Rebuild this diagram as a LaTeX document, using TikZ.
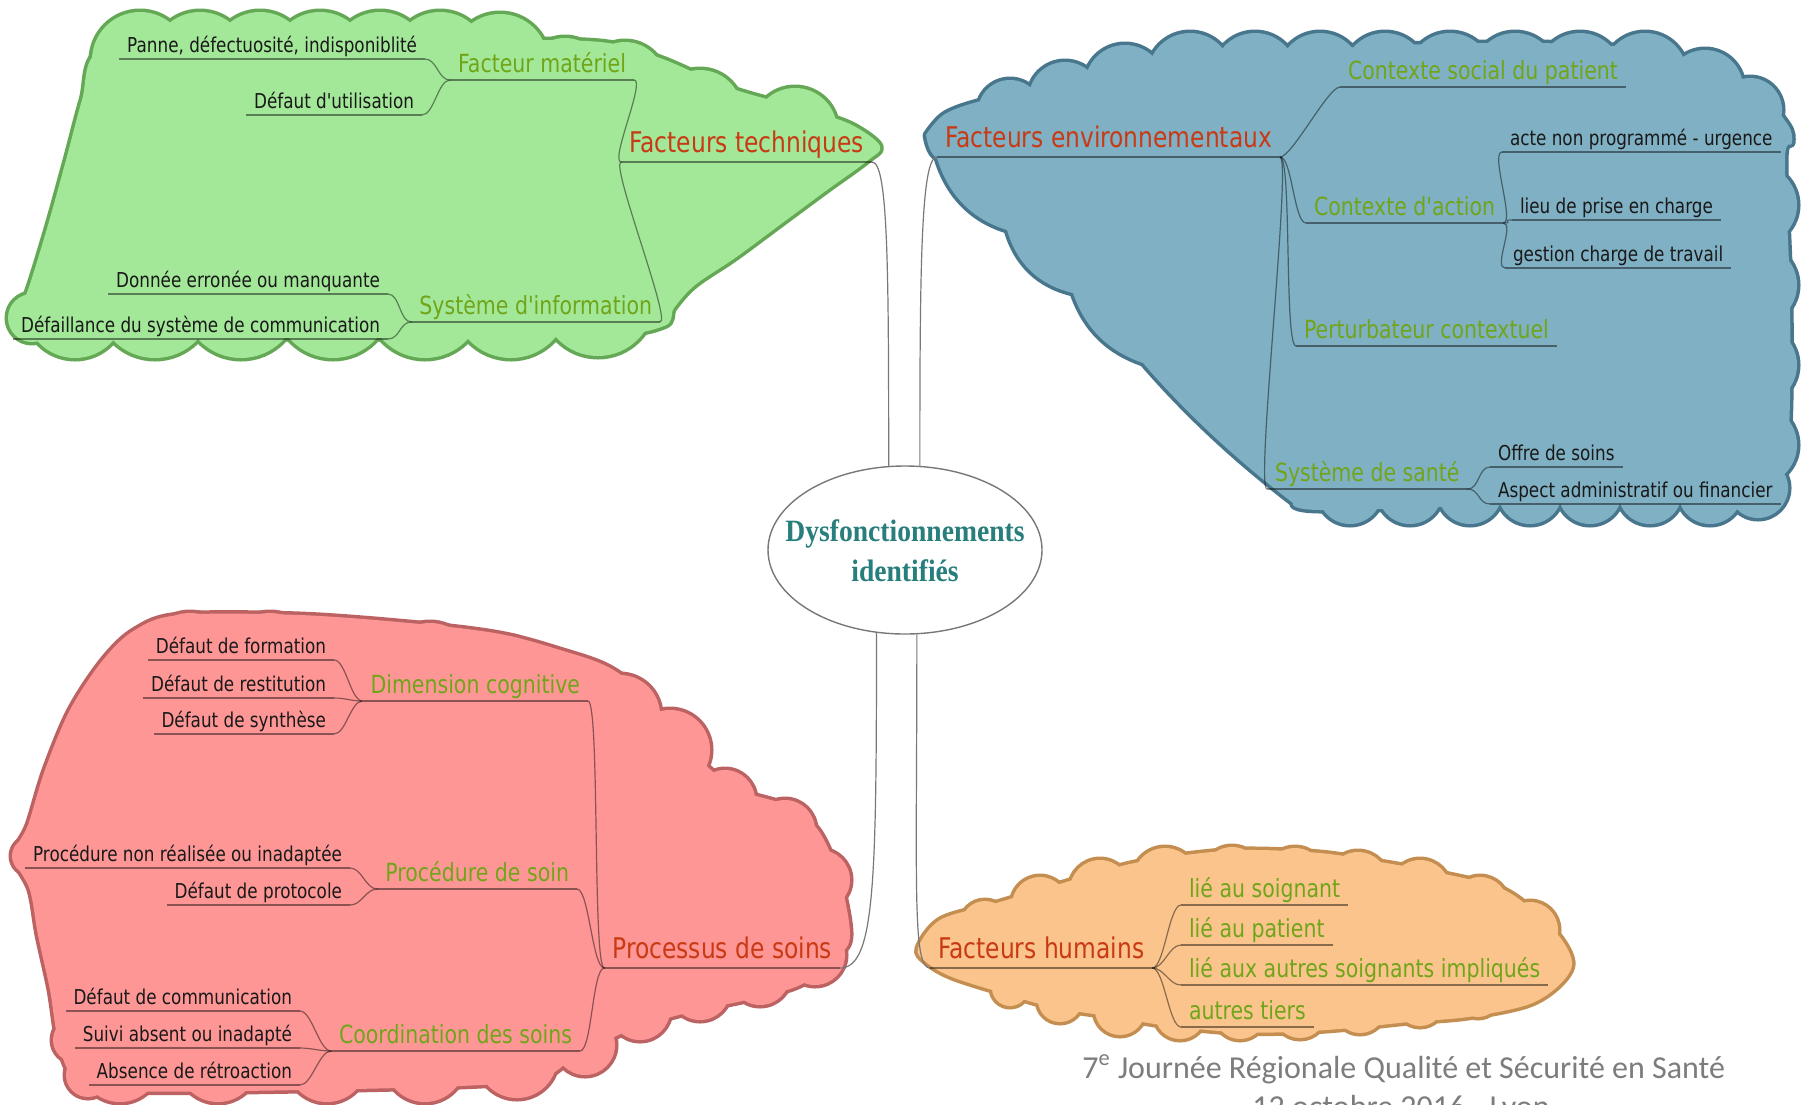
\documentclass[tikz,border=0pt]{standalone}
\usepackage{fontspec}
\usetikzlibrary{shapes.geometric}
\newfontfamily\mapfont[FakeStretch=0.82]{DejaVu Sans}
\newfontfamily\ctrfont[FakeStretch=0.89]{Liberation Serif}
\newfontfamily\footfont{Carlito}
\definecolor{gFill}{RGB}{162,232,152}
\definecolor{gEdge}{RGB}{100,168,85}
\definecolor{bFill}{RGB}{128,176,196}
\definecolor{bEdge}{RGB}{72,118,140}
\definecolor{rFill}{RGB}{255,150,150}
\definecolor{rEdge}{RGB}{188,98,98}
\definecolor{oFill}{RGB}{250,196,140}
\definecolor{oEdge}{RGB}{196,142,80}
\definecolor{cLone}{RGB}{200,58,20}
\definecolor{cLtwo}{RGB}{112,165,25}
\definecolor{cLeaf}{RGB}{25,25,25}
\definecolor{cCtr}{RGB}{40,125,125}
\definecolor{cFoot}{RGB}{125,125,125}
\definecolor{cLink}{RGB}{120,120,120}
\tikzset{
  cloudedge/.style={line width=3.5pt, line join=round},
  leaftext/.style={font=\mapfont\fontsize{10.25}{12}\selectfont, text=cLeaf, text depth=0pt, inner xsep=4pt, inner ysep=3.5pt, outer sep=0pt},
  twotext/.style={font=\mapfont\fontsize{12.5}{14}\selectfont, text=cLtwo, text depth=0pt, inner xsep=4pt, inner ysep=4pt, outer sep=0pt},
  onetext/.style={font=\mapfont\fontsize{14.25}{16}\selectfont, text=cLone, text depth=0pt, inner xsep=4pt, inner ysep=5pt, outer sep=0pt},
  lft/.style={anchor=base east},
  rgt/.style={anchor=base west},
  uline/.style={draw=black, draw opacity=0.45, line width=0.7pt},
  sublink/.style={draw=black, draw opacity=0.45, line width=0.6pt},
  mainlink/.style={draw=cLink, line width=0.6pt},
}
% cloud geometry (pixel units)
\def\greenbody{plot[smooth cycle, tension=0.55] coordinates {(98,52) (180,42) (330,40) (480,40) (600,42) (660,58) (730,88) (800,108) (850,124) (880,146) (867,161) (827,190) (781,224) (735,258) (695,285) (674,308) (664,326) (600,336) (400,338) (200,338) (60,336) (14,324) (28,290) (48,225) (66,160) (82,100)}}
\def\greenbumps{(140,60) circle (48) (200,60) circle (48) (260,60) circle (48) (320,60) circle (48) (380,60) circle (48) (440,60) circle (48) (500,62) circle (48) (565,78) circle (40) (625,82) circle (40) (700,112) circle (42) (795,130) circle (42) (75,308) circle (50) (155,300) circle (58) (241,300) circle (58) (333,300) circle (58) (425,300) circle (58) (511,300) circle (58) (598,300) circle (56) (32,318) circle (24)}
\def\bluebody{(926,135) .. controls (928,148) and (932,155) .. (937,158)
  .. controls (948,194) and (971,219) .. (1007,230)
  .. controls (1017,264) and (1039,285) .. (1073,293)
  .. controls (1085,328) and (1108,351) .. (1143,363)
  .. controls (1188,415) and (1238,461) .. (1293,503)
  -- plot[smooth, tension=0.55] coordinates {(1293,503) (1320,510) (1500,505) (1700,500) (1770,492) (1788,440) (1790,300) (1785,160) (1792,143) (1788,125) (1760,95) (1700,65) (1600,45) (1400,45) (1200,60) (1060,85) (985,100) (945,114) (926,135)} -- cycle}
\def\bluebumps{(1010,112) circle (32) (1065,98) circle (36) (1125,85) circle (40) (1190,75) circle (42) (1255,75) circle (42) (1320,75) circle (42) (1385,75) circle (42) (1450,75) circle (42) (1515,75) circle (42) (1580,75) circle (42) (1645,75) circle (42) (1705,88) circle (38) (1750,110) circle (32) (1757,205) circle (40) (1757,285) circle (40) (1757,365) circle (40) (1757,445) circle (40) (1350,492) circle (32) (1410,492) circle (32) (1470,492) circle (32) (1530,492) circle (32) (1590,492) circle (32) (1650,492) circle (32) (1710,492) circle (32) (1758,488) circle (30)}
\def\orangebody{plot[smooth cycle, tension=0.55] coordinates {(918,948) (940,920) (990,905) (1030,893) (1080,878) (1130,864) (1185,855) (1245,850) (1320,853) (1380,862) (1440,873) (1500,888) (1535,912) (1562,940) (1572,965) (1557,987) (1527,1005) (1468,1017) (1409,1022) (1351,1028) (1292,1032) (1233,1032) (1162,1025) (1115,1017) (1056,1008) (1009,995) (952,977) (926,962)}}
\def\orangebumps{(985,925) circle (24) (1040,905) circle (28) (1100,890) circle (30) (1165,880) circle (32) (1232,877) circle (30) (1295,878) circle (30) (1358,882) circle (30) (1420,890) circle (30) (1480,905) circle (28) (1530,930) circle (28) (1010,988) circle (18) (1060,1000) circle (22) (1120,1010) circle (25) (1180,1014) circle (25) (1240,1014) circle (25) (1300,1012) circle (26) (1360,1008) circle (25) (1420,1002) circle (24) (1478,995) circle (22) (1528,982) circle (20)}
\def\redbody{plot[smooth cycle, tension=0.55] coordinates {(103,660) (135,630) (180,615) (300,615) (420,624) (500,634) (560,650) (610,668) (650,700) (690,750) (735,788) (785,805) (818,830) (840,880) (850,935) (838,956) (800,985) (746,1000) (690,1012) (630,1030) (575,1057) (520,1082) (300,1090) (90,1090) (68,1070) (57,1035) (50,990) (38,935) (30,890) (14,856) (28,825) (45,770) (70,710)}}
\def\redbumps{(190,658) circle (45) (270,658) circle (45) (350,664) circle (45) (430,668) circle (45) (505,678) circle (42) (565,695) circle (40) (620,715) circle (40) (670,750) circle (40) (725,800) circle (30) (785,830) circle (30) (820,880) circle (30) (815,955) circle (30) (760,975) circle (30) (700,990) circle (30) (640,1010) circle (30) (585,1045) circle (30) (120,1062) circle (40) (218,1062) circle (40) (327,1062) circle (40) (425,1062) circle (40) (517,1058) circle (40) (75,1040) circle (22) (88,1075) circle (22) (30,856) circle (18)}
\begin{document}
\begin{tikzpicture}[x=0.5pt,y=-0.5pt]
\useasboundingbox (0,0) rectangle (1802,1104);
\clip (0,0) rectangle (1802,1104);
\fill[white] (0,0) rectangle (1802,1104);
% clouds: border pass then fill pass
\draw[cloudedge, gEdge] \greenbody; \draw[cloudedge, gEdge] \greenbumps;
\fill[gFill] \greenbody; \fill[gFill] \greenbumps;
\draw[cloudedge, bEdge] \bluebody; \draw[cloudedge, bEdge] \bluebumps;
\fill[bFill] \bluebody; \fill[bFill] \bluebumps;
\draw[cloudedge, oEdge] \orangebody; \draw[cloudedge, oEdge] \orangebumps;
\fill[oFill] \orangebody; \fill[oFill] \orangebumps;
\draw[cloudedge, rEdge] \redbody; \draw[cloudedge, rEdge] \redbumps;
\fill[rFill] \redbody; \fill[rFill] \redbumps;

% central node
\node[draw=cLink, fill=white, ellipse, minimum width=137pt, minimum height=84pt, inner sep=0pt, line width=0.7pt] (c) at (905,550) {};
\node[font=\ctrfont\bfseries\fontsize{15.5}{20}\selectfont, text=cCtr, align=center, inner sep=0pt] (ctext) at (905,551) {Dysfonctionnements\\identifiés};

% green: Facteurs techniques
\node[onetext, lft] (gTech) at (872,152) {Facteurs techniques};
\node[twotext, lft] (gMat) at (634,72) {Facteur matériel};
\node[leaftext, lft] (gPanne) at (425,52) {Panne, défectuosité, indisponiblité};
\node[leaftext, lft] (gUtil) at (422,108) {Défaut d'utilisation};
\node[twotext, lft] (gSI) at (660,314) {Système d'information};
\node[leaftext, lft] (gDonnee) at (388,287) {Donnée erronée ou manquante};
\node[leaftext, lft] (gDefail) at (388,332) {Défaillance du système de communication};

% blue: Facteurs environnementaux
\node[onetext, rgt] (bEnv) at (937,147) {Facteurs environnementaux};
\node[twotext, rgt] (bSocial) at (1340,79) {Contexte social du patient};
\node[twotext, rgt] (bAction) at (1306,215) {Contexte d'action};
\node[leaftext, rgt] (bActe) at (1502,145) {acte non programmé - urgence};
\node[leaftext, rgt] (bLieu) at (1512,213) {lieu de prise en charge};
\node[leaftext, rgt] (bGestion) at (1505,261) {gestion charge de travail};
\node[twotext, rgt] (bPerturb) at (1296,338) {Perturbateur contextuel};
\node[twotext, rgt] (bSante) at (1267,481) {Système de santé};
\node[leaftext, rgt] (bOffre) at (1490,460) {Offre de soins};
\node[leaftext, rgt] (bAspect) at (1490,497) {Aspect administratif ou financier};

% red: Processus de soins
\node[onetext, lft] (rProc) at (840,958) {Processus de soins};
\node[twotext, lft] (rCogn) at (588,693) {Dimension cognitive};
\node[leaftext, lft] (rForm) at (334,653) {Défaut de formation};
\node[leaftext, lft] (rRest) at (334,691) {Défaut de restitution};
\node[leaftext, lft] (rSynth) at (334,727) {Défaut de synthèse};
\node[twotext, lft] (rProcSoin) at (577,881) {Procédure de soin};
\node[leaftext, lft] (rProcNon) at (350,861) {Procédure non réalisée ou inadaptée};
\node[leaftext, lft] (rProto) at (350,898) {Défaut de protocole};
\node[twotext, lft] (rCoord) at (580,1043) {Coordination des soins};
\node[leaftext, lft] (rComm) at (300,1004) {Défaut de communication};
\node[leaftext, lft] (rSuivi) at (300,1041) {Suivi absent ou inadapté};
\node[leaftext, lft] (rAbs) at (300,1078) {Absence de rétroaction};

% orange: Facteurs humains
\node[onetext, rgt] (oHum) at (930,958) {Facteurs humains};
\node[twotext, rgt] (oSoign) at (1181,897) {lié au soignant};
\node[twotext, rgt] (oPatient) at (1181,937) {lié au patient};
\node[twotext, rgt] (oAutres) at (1181,977) {lié aux autres soignants impliqués};
\node[twotext, rgt] (oTiers) at (1181,1019) {autres tiers};

% underlines
\foreach \n in {gTech,gMat,gPanne,gUtil,gSI,gDonnee,gDefail,bEnv,bSocial,bAction,bActe,bLieu,bGestion,bPerturb,bSante,bOffre,bAspect,rProc,rCogn,rForm,rRest,rSynth,rProcSoin,rProcNon,rProto,rCoord,rComm,rSuivi,rAbs,oHum,oSoign,oPatient,oAutres,oTiers}
  \draw[uline] (\n.south west) -- (\n.south east);

% sub links (east end of the left item to west end of the right item)
\foreach \a/\b in {gPanne/gMat,gUtil/gMat,gMat/gTech,gDonnee/gSI,gDefail/gSI,gSI/gTech,
  rForm/rCogn,rRest/rCogn,rSynth/rCogn,rCogn/rProc,rProcNon/rProcSoin,rProto/rProcSoin,rProcSoin/rProc,rComm/rCoord,rSuivi/rCoord,rAbs/rCoord,rCoord/rProc,
  bEnv/bSocial,bEnv/bAction,bEnv/bPerturb,bEnv/bSante,bAction/bActe,bAction/bLieu,bAction/bGestion,bSante/bOffre,bSante/bAspect,
  oHum/oSoign,oHum/oPatient,oHum/oAutres,oHum/oTiers}
  \draw[sublink] (\a.south east) .. controls +(12,0) and +(-12,0) .. (\b.south west);

% main links to the centre
\draw[mainlink] (gTech.south east) .. controls +(16,0) and +(0,-200) .. (c.101);
\draw[mainlink] (bEnv.south west) .. controls +(-16,0) and +(0,-200) .. (c.80);
\draw[mainlink] (rProc.south east) .. controls +(35,0) and +(0,250) .. (c.251);
\draw[mainlink] (c.278) .. controls +(0,250) and +(-18,0) .. (oHum.south west);

% footer
\node[font=\footfont\fontsize{16}{19}\selectfont, text=cFoot, anchor=base west, inner sep=0pt] (foot1) at (1082,1078) {7\textsuperscript{e} Journée Régionale Qualité et Sécurité en Santé};
\node[font=\footfont\fontsize{16}{19}\selectfont, text=cFoot, anchor=base, inner sep=0pt] (foot2) at (1401,1117) {12 octobre 2016 - Lyon};
\end{tikzpicture}
\end{document}
